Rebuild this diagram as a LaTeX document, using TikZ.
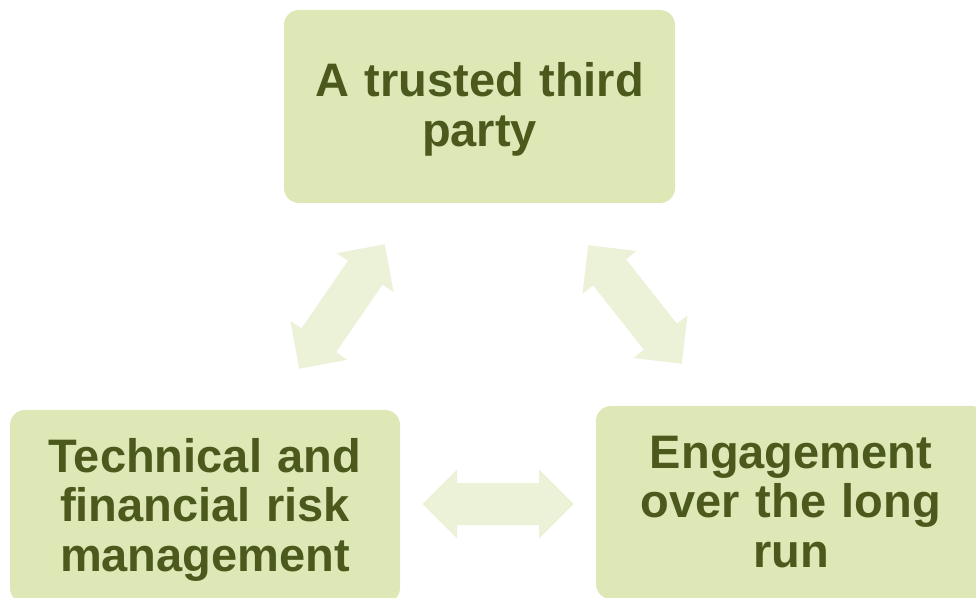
\documentclass[tikz,border=0pt]{standalone}
\usepackage{fontspec}
\setmainfont{Liberation Sans}
\definecolor{boxfill}{HTML}{DDE8B6}
\definecolor{boxtext}{HTML}{4B591C}
\definecolor{arrowfill}{HTML}{EBF2D7}
\tikzset{
  panel/.style={rectangle, rounded corners=15pt, fill=boxfill, text=boxtext,
    inner sep=0pt, minimum height=193pt, text width=370pt, align=center,
    font=\bfseries\fontsize{47}{49.5}\selectfont, text height=34pt},
  twolines/.style={text depth=53.5pt},
  threelines/.style={text depth=103pt},
  pics/fatarrow/.style={code={
    \fill[arrowfill] (-75.5,0) -- (-41,34.5) -- (-41,21) -- (41,21) -- (41,34.5)
      -- (75.5,0) -- (41,-34.5) -- (41,-21) -- (-41,-21) -- (-41,-34.5) -- cycle;
  }}
}
\begin{document}
\begin{tikzpicture}[x=1pt,y=1pt]
  \useasboundingbox (0,0) rectangle (976,597);
  % three partner boxes
  \node[panel, twolines, minimum width=391pt] (trust) at (479.5,490.5)
    {A trusted third\\party};
  \node[panel, threelines, minimum width=390pt] (risk) at (205,90.5)
    {Technical and\\financial risk\\management};
  \node[panel, threelines, minimum width=390pt] (engage) at (791,94.5)
    {Engagement\\over the long\\run};
  % double-headed block arrows between the boxes
  \pic[rotate=55.5] (trustrisk) at (342,290.5) {fatarrow};
  \pic[rotate=-51.7] (trustengage) at (635,292.5) {fatarrow};
  \pic (riskengage) at (498,93) {fatarrow};
\end{tikzpicture}
\end{document}
